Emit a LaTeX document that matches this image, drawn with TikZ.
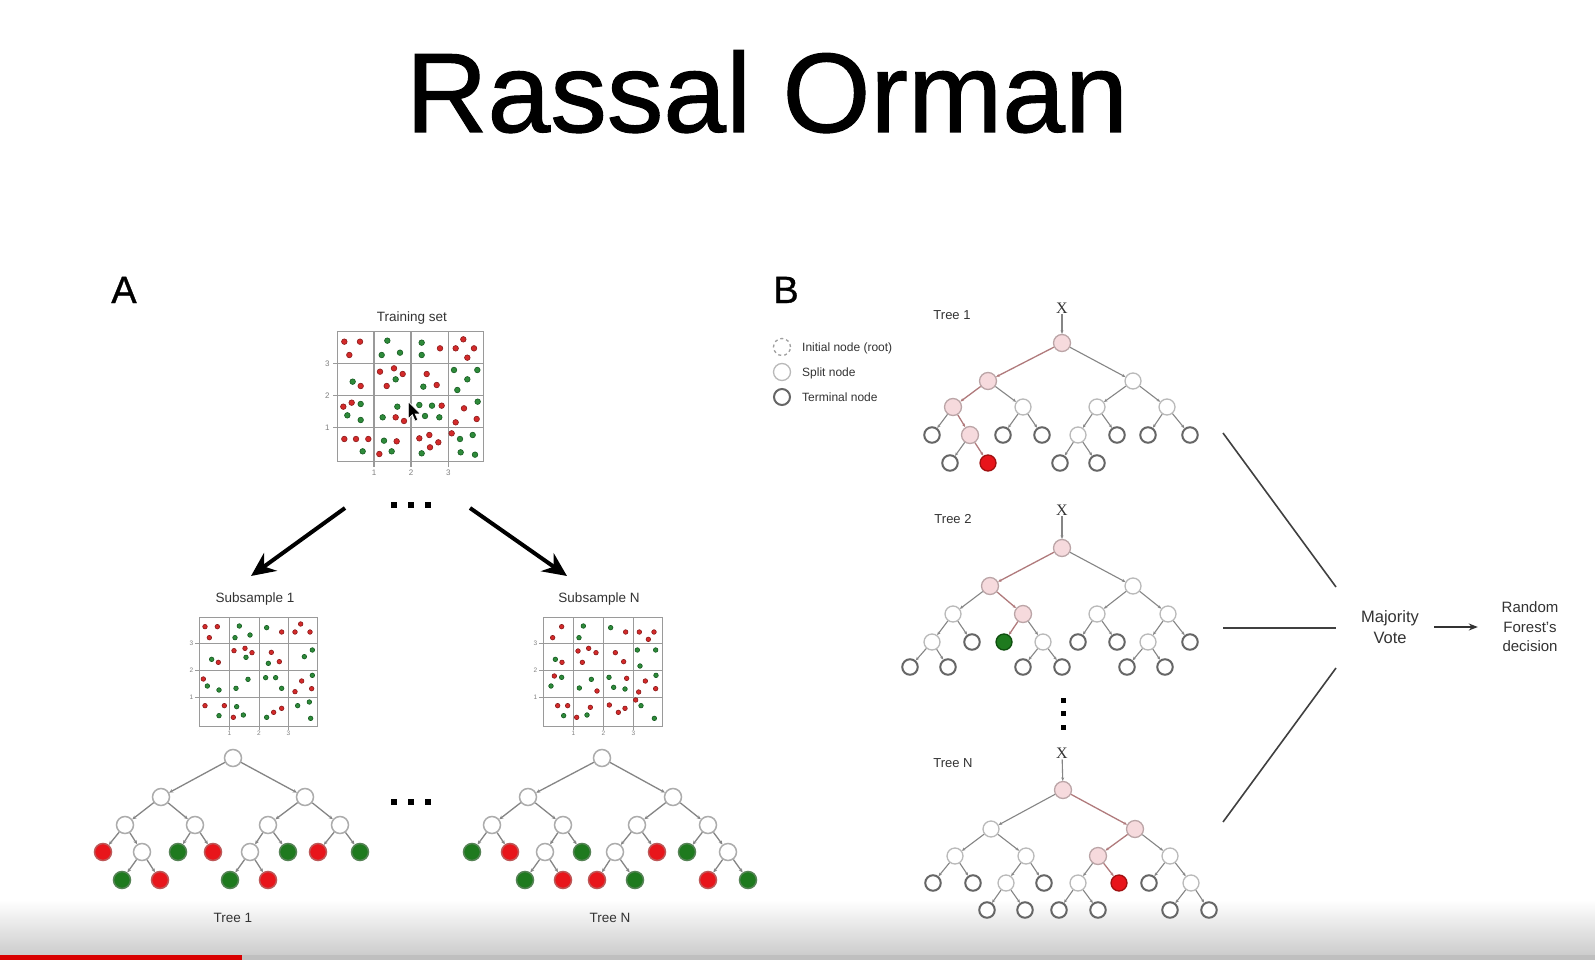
\documentclass[tikz,border=0pt]{standalone}
\usepackage{fontspec}
\setmainfont{Liberation Sans}
\newfontfamily\xserif{Liberation Serif}
\newfontfamily\titlefont[FakeBold=0.9]{Liberation Sans}
\usetikzlibrary{arrows.meta}
\definecolor{txt}{HTML}{333333}
\definecolor{gridc}{HTML}{9A9A9A}
\definecolor{dred}{HTML}{D42A2A}
\definecolor{dredb}{HTML}{8A1A1A}
\definecolor{dgreen}{HTML}{2E8B3A}
\definecolor{dgreenb}{HTML}{155A20}
\definecolor{lred}{HTML}{E8151B}
\definecolor{lredb}{HTML}{A01010}
\definecolor{lgreen}{HTML}{1E7A1E}
\definecolor{lgreenb}{HTML}{0E4E0E}
\definecolor{pinkf}{HTML}{F6DADD}
\definecolor{pinkd}{HTML}{BBA5A7}
\definecolor{pathc}{HTML}{B07A7C}
\definecolor{edgec}{HTML}{858585}
\begin{document}
\begin{tikzpicture}[x=1pt,y=-1pt,
  lab/.style={font=\fontsize{13.5}{15}\selectfont,text=txt,anchor=base,inner sep=0},
  axl/.style={font=\fontsize{8}{9}\selectfont,text=gray,inner sep=0},
  gridl/.style={draw=gridc,line width=1.2pt},
  rdot/.style={fill=dred,draw=dredb,line width=0.6pt},
  gdot/.style={fill=dgreen,draw=dgreenb,line width=0.6pt},
  anode/.style={circle,draw=gray!65,line width=1.5pt,fill=white,minimum size=17pt,inner sep=0},
  ared/.style={anode,fill=lred,draw=lredb!70},
  agreen/.style={anode,fill=lgreen,draw=lgreenb!70},
  aedge/.style={draw=edgec,line width=1.3pt,-{Stealth[length=4pt,width=3.5pt]}},
  bsplit/.style={circle,draw=gray!55,line width=1.3pt,fill=white,minimum size=16pt,inner sep=0},
  bterm/.style={circle,draw=gray!80!black,line width=2pt,fill=white,minimum size=15.5pt,inner sep=0},
  bpath/.style={circle,draw=pinkd,line width=1.3pt,fill=pinkf,minimum size=17pt,inner sep=0},
  bred/.style={circle,draw=lredb,line width=1.3pt,fill=lred,minimum size=16pt,inner sep=0},
  bgreen/.style={circle,draw=lgreenb,line width=1.3pt,fill=lgreen,minimum size=16pt,inner sep=0},
  bedge/.style={draw=edgec,line width=1.1pt,-{Stealth[length=3.5pt,width=3pt]}},
  pedge/.style={draw=pathc,line width=1.3pt,-{Stealth[length=3.5pt,width=3pt]}},
  xlab/.style={font=\xserif\fontsize{16}{16}\selectfont,text=txt,inner sep=1pt},
  bigarrow/.style={draw=black,line width=4pt,-{Stealth[length=24pt,width=22pt]}},
  vline/.style={draw=black!75,line width=1.6pt},
  sqdot/.style={fill=black}
]
\useasboundingbox (0,0) rectangle (1595,960);
\fill[white] (0,0) rectangle (1595,960);
% bottom player bar
\shade[top color=white,bottom color=black!20] (0,900) rectangle (1595,955);
\fill[black!25] (0,955) rectangle (1595,960);
\fill[red!85!black] (0,955) rectangle (242,960);

% title
\node[font=\titlefont\fontsize{113}{113}\selectfont,anchor=base,inner sep=0] (title) at (767,132) {Rassal Orman};
\node[font=\titlefont\fontsize{38}{38}\selectfont,anchor=base,inner sep=0] (labA) at (124,303) {A};
\node[font=\titlefont\fontsize{38}{38}\selectfont,anchor=base,inner sep=0] (labB) at (786,303) {B};

% ---------------- Panel A: training set ----------------
\node[lab] (trainlab) at (412,321) {Training set};
\begin{scope}[shift={(300,290)},x=0.33333pt,y=-0.33333pt]
  \draw[gridl] (112,125) rectangle (550,515);
  \foreach \gx in {222,333,445} \draw[gridl] (\gx,125) -- (\gx,530);
  \foreach \gy in {220,316,412} \draw[gridl] (100,\gy) -- (550,\gy);
  \node[axl] (ty3) at (82,220) {3};
  \node[axl] (ty2) at (82,316) {2};
  \node[axl] (ty1) at (82,412) {1};
  \node[axl] (tx1) at (222,548) {1};
  \node[axl] (tx2) at (333,548) {2};
  \node[axl] (tx3) at (445,548) {3};
  \foreach \px/\py in {133/155,180/155,148/195,420/175,490/148,467/175,522/175,502/203,182/288,240/245,282/235,308/252,260/288,380/252,410/285,130/350,155/338,287/382,312/393,425/347,492/355,530/387,467/397,133/447,168/447,205/447,290/454,238/492,388/435,358/445,415/457,390/472,455/430}
    \path[rdot] (\px,\py) circle[radius=2.8pt];
  \foreach \px/\py in {262/152,245/195,300/188,365/158,365/195,158/275,287/268,370/290,462/240,532/240,502/268,472/300,182/342,142/376,182/390,292/350,248/382,358/345,396/347,375/378,418/382,533/335,188/484,252/452,275/484,365/490,480/447,518/435,482/487,525/494}
    \path[gdot] (\px,\py) circle[radius=2.8pt];
  % mouse cursor
  \begin{scope}[shift={(325,335)},x=0.9pt,y=-0.9pt]
    \filldraw[fill=black,draw=white,line width=0.6pt] (0,0) -- (0,19) -- (4.5,14.5) -- (7.5,21.5) -- (10.5,20.2) -- (7.5,13.5) -- (13.5,13.5) -- cycle;
  \end{scope}
\end{scope}
\coordinate (tsL) at (345,508);
\coordinate (tsR) at (470,508);
\coordinate (ssL) at (251,576);
\coordinate (ssR) at (567,576);
\draw[bigarrow] (tsL) -- (ssL);
\draw[bigarrow] (tsR) -- (ssR);
\foreach \dx in {394,411,428} \fill[sqdot] (\dx-3,502) rectangle (\dx+3,508);
\foreach \dx in {394,411,428} \fill[sqdot] (\dx-3,799) rectangle (\dx+3,805);

% ---------------- Subsample 1 ----------------
\node[lab] (sub1lab) at (255,602) {Subsample 1};
\begin{scope}[shift={(180,570)},x=0.33333pt,y=-0.33333pt]
  \draw[gridl,line width=1pt] (57,143) rectangle (412,468);
  \foreach \gx in {148,237,325} \draw[gridl,line width=1pt] (\gx,143) -- (\gx,480);
  \foreach \gy in {220,300,381} \draw[gridl,line width=1pt] (45,\gy) -- (412,\gy);
  \node[axl,font=\fontsize{6.5}{7}\selectfont] (s1y3) at (34,220) {3};
  \node[axl,font=\fontsize{6.5}{7}\selectfont] (s1y2) at (34,300) {2};
  \node[axl,font=\fontsize{6.5}{7}\selectfont] (s1y1) at (34,381) {1};
  \node[axl,font=\fontsize{6.5}{7}\selectfont] (s1x1) at (148,490) {1};
  \node[axl,font=\fontsize{6.5}{7}\selectfont] (s1x2) at (237,490) {2};
  \node[axl,font=\fontsize{6.5}{7}\selectfont] (s1x3) at (325,490) {3};
  \foreach \px/\py in {75/170,112/170,88/203,305/186,362/162,345/186,390/186,115/277,162/242,195/235,216/248,274/247,298/275,70/327,365/333,395/356,345/365,75/407,133/407,160/442,281/427,305/415}
    \path[rdot] (\px,\py) circle[radius=2.3pt];
  \foreach \px/\py in {178/168,165/203,210/195,260/173,95/268,198/262,265/280,397/240,373/260,82/348,117/360,204/328,168/355,257/323,287/323,305/355,397/316,170/410,117/437,190/435,260/442,353/407,388/396,392/445}
    \path[gdot] (\px,\py) circle[radius=2.3pt];
\end{scope}

% ---------------- Subsample N ----------------
\node[lab] (subNlab) at (599,602) {Subsample N};
\begin{scope}[shift={(500,570)},x=0.33333pt,y=-0.33333pt]
  \draw[gridl,line width=1pt] (130,143) rectangle (487,468);
  \foreach \gx in {220,310,400} \draw[gridl,line width=1pt] (\gx,143) -- (\gx,480);
  \foreach \gy in {220,300,381} \draw[gridl,line width=1pt] (118,\gy) -- (487,\gy);
  \node[axl,font=\fontsize{6.5}{7}\selectfont] (sNy3) at (106,220) {3};
  \node[axl,font=\fontsize{6.5}{7}\selectfont] (sNy2) at (106,300) {2};
  \node[axl,font=\fontsize{6.5}{7}\selectfont] (sNy1) at (106,381) {1};
  \node[axl,font=\fontsize{6.5}{7}\selectfont] (sNx1) at (220,490) {1};
  \node[axl,font=\fontsize{6.5}{7}\selectfont] (sNx2) at (310,490) {2};
  \node[axl,font=\fontsize{6.5}{7}\selectfont] (sNx3) at (400,490) {3};
  \foreach \px/\py in {185/170,158/203,377/186,418/186,462/186,445/208,186/277,234/243,266/235,288/248,247/277,346/248,371/275,163/318,291/363,380/325,436/333,467/356,416/366,173/407,203/407,230/442,271/412,328/405,355/427,375/415,407/390}
    \path[rdot] (\px,\py) circle[radius=2.3pt];
  \foreach \px/\py in {250/168,237/203,332/173,166/268,412/240,467/240,420/288,185/322,153/348,274/328,238/354,327/322,341/352,375/357,468/316,191/437,261/435,423/407,463/445}
    \path[gdot] (\px,\py) circle[radius=2.3pt];
\end{scope}

% ---------------- Tree 1 (A) ----------------
\foreach \n/\x/\y in {pr/233/758,pa/161/797,pb/305/797,paa/125/825,pab/195/825,pba/268/825,pbb/340/825,paab/142/852,pbaa/250/852}
  \node[anode] (\n) at (\x,\y) {};
\foreach \n/\x/\y in {paaa/103/852,pabb/213/852,pbba/318/852,paabb/160/880,pbaab/268/880}
  \node[ared] (\n) at (\x,\y) {};
\foreach \n/\x/\y in {paba/178/852,pbab/288/852,pbbb/360/852,paaba/122/880,pbaaa/230/880}
  \node[agreen] (\n) at (\x,\y) {};
\foreach \p/\c in {pr/pa,pr/pb,pa/paa,pa/pab,paa/paaa,paa/paab,paab/paaba,paab/paabb,pab/paba,pab/pabb,pb/pba,pb/pbb,pba/pbaa,pba/pbab,pbaa/pbaaa,pbaa/pbaab,pbb/pbba,pbb/pbbb}
  \draw[aedge] (\p) -- (\c);
\node[lab] (tree1A) at (233,922) {Tree 1};

% ---------------- Tree N (A) ----------------
\foreach \n/\x/\y in {qr/602/758,qa/528/797,qb/673/797,qaa/492/825,qab/563/825,qba/637/825,qbb/708/825,qaba/545/852,qbaa/615/852,qbbb/728/852}
  \node[anode] (\n) at (\x,\y) {};
\foreach \n/\x/\y in {qaab/510/852,qbab/657/852,qabab/563/880,qbaaa/597/880,qbbba/708/880}
  \node[ared] (\n) at (\x,\y) {};
\foreach \n/\x/\y in {qaaa/472/852,qabb/582/852,qbba/687/852,qabaa/525/880,qbaab/635/880,qbbbb/748/880}
  \node[agreen] (\n) at (\x,\y) {};
\foreach \p/\c in {qr/qa,qr/qb,qa/qaa,qa/qab,qaa/qaaa,qaa/qaab,qab/qaba,qab/qabb,qaba/qabaa,qaba/qabab,qb/qba,qb/qbb,qba/qbaa,qba/qbab,qbaa/qbaaa,qbaa/qbaab,qbb/qbba,qbb/qbbb,qbbb/qbbba,qbbb/qbbbb}
  \draw[aedge] (\p) -- (\c);
\node[lab] (treeNA) at (610,922) {Tree N};

% ---------------- Panel B: legend ----------------
\node[circle,draw=gray!75,dashed,line width=1.3pt,minimum size=17pt,inner sep=0] (legroot) at (782,347) {};
\node[circle,draw=gray!55,line width=1.3pt,minimum size=17pt,inner sep=0] (legsplit) at (782,372) {};
\node[circle,draw=gray!80!black,line width=2pt,minimum size=16pt,inner sep=0] (legterm) at (782,397) {};
\node[font=\fontsize{12}{13}\selectfont,text=txt,anchor=base west,inner sep=0] (legt1) at (802,351) {Initial node (root)};
\node[font=\fontsize{12}{13}\selectfont,text=txt,anchor=base west,inner sep=0] (legt2) at (802,376) {Split node};
\node[font=\fontsize{12}{13}\selectfont,text=txt,anchor=base west,inner sep=0] (legt3) at (802,401) {Terminal node};

% ---------------- Tree 1 (B) ----------------
\node[lab,font=\fontsize{13}{14}\selectfont] (tree1B) at (952,319) {Tree 1};
\node[xlab] (ux) at (1062,308) {X};
\foreach \n/\x/\y in {ur/1062/343,ua/988/381,uaa/953/407,uaab/970/435}
  \node[bpath] (\n) at (\x,\y) {};
\foreach \n/\x/\y in {ub/1133/381,uab/1023/407,uba/1097/407,ubb/1167/407,ubaa/1078/435}
  \node[bsplit] (\n) at (\x,\y) {};
\foreach \n/\x/\y in {uaaa/932/435,uaba/1003/435,uabb/1042/435,ubab/1117/435,ubba/1148/435,ubbb/1190/435,uaaba/950/463,ubaaa/1060/463,ubaab/1097/463}
  \node[bterm] (\n) at (\x,\y) {};
\node[bred] (uaabb) at (988,463) {};
\draw[bedge] (ux) -- (ur);
\foreach \p/\c in {ur/ub,ua/uab,uaa/uaaa,uaab/uaaba,uab/uaba,uab/uabb,ub/uba,ub/ubb,uba/ubaa,uba/ubab,ubaa/ubaaa,ubaa/ubaab,ubb/ubba,ubb/ubbb}
  \draw[bedge] (\p) -- (\c);
\foreach \p/\c in {ur/ua,ua/uaa,uaa/uaab,uaab/uaabb}
  \draw[pedge] (\p) -- (\c);

% ---------------- Tree 2 (B) ----------------
\node[lab,font=\fontsize{13}{14}\selectfont] (tree2B) at (953,523) {Tree 2};
\node[xlab] (vx) at (1062,510) {X};
\foreach \n/\x/\y in {vr/1062/548,va/990/586,vab/1023/614}
  \node[bpath] (\n) at (\x,\y) {};
\foreach \n/\x/\y in {vb/1133/586,vaa/953/614,vba/1097/614,vbb/1168/614,vaaa/932/642,vabb/1043/642,vbba/1148/642}
  \node[bsplit] (\n) at (\x,\y) {};
\foreach \n/\x/\y in {vaab/972/642,vbaa/1078/642,vbab/1117/642,vbbb/1190/642,vaaaa/910/667,vaaab/948/667,vabba/1023/667,vabbb/1062/667,vbbaa/1127/667,vbbab/1165/667}
  \node[bterm] (\n) at (\x,\y) {};
\node[bgreen] (vaba) at (1004,642) {};
\draw[bedge] (vx) -- (vr);
\foreach \p/\c in {vr/vb,va/vaa,vaa/vaaa,vaa/vaab,vaaa/vaaaa,vaaa/vaaab,vab/vabb,vabb/vabba,vabb/vabbb,vb/vba,vb/vbb,vba/vbaa,vba/vbab,vbb/vbba,vbb/vbbb,vbba/vbbaa,vbba/vbbab}
  \draw[bedge] (\p) -- (\c);
\foreach \p/\c in {vr/va,va/vab,vab/vaba}
  \draw[pedge] (\p) -- (\c);

% vertical dots
\foreach \dy in {700,713,727} \fill[sqdot] (1060.5,\dy-2.5) rectangle (1065.5,\dy+2.5);

% ---------------- Tree N (B) ----------------
\node[lab,font=\fontsize{13}{14}\selectfont] (treeNB) at (953,767) {Tree N};
\node[xlab] (wx) at (1062,753) {X};
\foreach \n/\x/\y in {wr/1063/790,wb/1135/829,wba/1098/856}
  \node[bpath] (\n) at (\x,\y) {};
\foreach \n/\x/\y in {wa/991/829,waa/955/856,wab/1026/856,wbb/1170/856,waba/1006/883,wbaa/1078/883,wbbb/1191/883}
  \node[bsplit] (\n) at (\x,\y) {};
\foreach \n/\x/\y in {waaa/933/883,waab/973/883,wabb/1044/883,wbba/1149/883,wabaa/987/910,wabab/1025/910,wbaaa/1059/910,wbaab/1098/910,wbbba/1170/910,wbbbb/1209/910}
  \node[bterm] (\n) at (\x,\y) {};
\node[bred] (wbab) at (1119,883) {};
\draw[bedge] (wx) -- (wr);
\foreach \p/\c in {wr/wa,wa/waa,wa/wab,waa/waaa,waa/waab,wab/waba,wab/wabb,waba/wabaa,waba/wabab,wb/wbb,wba/wbaa,wbaa/wbaaa,wbaa/wbaab,wbb/wbba,wbb/wbbb,wbbb/wbbba,wbbb/wbbbb}
  \draw[bedge] (\p) -- (\c);
\foreach \p/\c in {wr/wb,wb/wba,wba/wbab}
  \draw[pedge] (\p) -- (\c);

% ---------------- Majority vote ----------------
\node[font=\fontsize{16.5}{21}\selectfont,text=txt,align=center,text width=62pt,inner xsep=13pt,inner ysep=0] (mv) at (1390,627) {Majority\\Vote};
\node[font=\fontsize{15}{19.5}\selectfont,text=txt,align=center,text width=58pt,inner xsep=23pt,inner ysep=0] (rf) at (1530,627) {Random\\Forest's\\decision};
\draw[draw=black!80,line width=1.6pt,-{Stealth[length=9pt,width=7pt]}] (mv) -- (rf);
\coordinate (m1a) at (1223,433); \coordinate (m1b) at (1336,587);
\coordinate (m2a) at (1223,628); \coordinate (m2b) at (1336,628);
\coordinate (m3a) at (1223,822); \coordinate (m3b) at (1336,668);
\draw[vline] (m1a) -- (m1b);
\draw[vline] (m2a) -- (m2b);
\draw[vline] (m3a) -- (m3b);
\end{tikzpicture}
\end{document}
